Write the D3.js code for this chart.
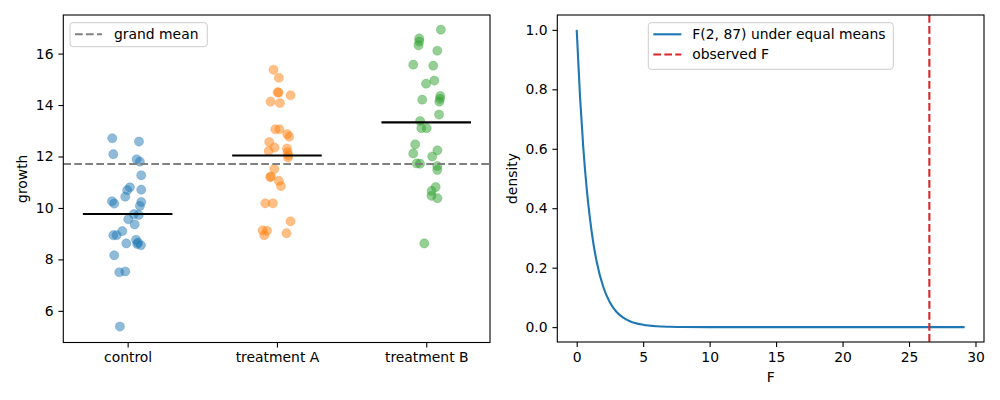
<!DOCTYPE html>
<html>
<head>
<meta charset="utf-8">
<script src="https://cdn.jsdelivr.net/npm/d3@7"></script>
<style>
  body { margin: 0; background: #fff; }
  text { font-family: "DejaVu Sans", sans-serif; }
</style>
</head>
<body>
<div id="chart-area"></div>
<script>
// groups and growth values
var groups = ["control", "treatment A", "treatment B"];

var control = [12.71, 12.58, 12.09, 11.89, 11.80, 11.27, 10.80, 10.69, 10.71, 10.44,
  10.26, 10.17, 10.23, 10.08, 9.76, 9.73, 9.56, 9.36, 9.10, 8.94,
  8.94, 8.76, 8.60, 8.55, 8.62, 8.16, 7.50, 7.53, 5.39, 8.65];
var jitterControl = [-0.103, 0.076, -0.096, 0.060, 0.082, 0.091, 0.015, -0.003, 0.091, -0.016,
  -0.105, -0.090, 0.091, 0.082, 0.042, 0.074, 0.004, 0.047, -0.036, -0.096,
  -0.074, 0.056, 0.064, 0.089, -0.009, -0.090, -0.056, -0.016, -0.052, 0.070];

var treatmentA = [15.37, 15.06, 14.48, 14.50, 14.38, 14.13, 14.08, 13.06, 13.06, 12.87,
  12.77, 12.56, 12.35, 12.21, 12.31, 12.17, 11.96, 11.51, 11.20, 11.22,
  11.05, 10.85, 10.18, 10.18, 9.48, 9.13, 9.11, 8.94, 9.02, 12.05];
var jitterA = [-0.023, 0.013, 0.011, 0.005, 0.091, -0.043, 0.020, -0.011, 0.017, 0.069,
  0.082, -0.052, -0.016, -0.056, 0.067, 0.071, 0.074, -0.018, -0.045, -0.040,
  0.013, 0.027, -0.078, -0.027, 0.091, -0.096, -0.067, -0.085, 0.064, 0.076];

var treatmentB = [16.93, 16.59, 16.47, 16.32, 16.11, 15.57, 15.53, 14.83, 14.95, 14.21,
  14.35, 14.24, 14.13, 13.63, 13.38, 13.10, 13.10, 12.47, 12.24, 12.12,
  12.00, 11.73, 11.72, 11.63, 11.48, 10.81, 10.66, 10.47, 10.38, 8.62];
var jitterB = [0.098, -0.047, -0.047, -0.052, 0.074, -0.087, 0.047, -0.001, 0.054, -0.027,
  0.094, 0.092, 0.088, 0.086, -0.041, -0.033, 0.003, -0.074, 0.075, -0.087,
  0.040, -0.064, -0.042, 0.074, 0.074, 0.063, 0.036, 0.035, 0.075, -0.013];

// F(2, 87) density
var fValues = [0, 0.25, 0.5, 0.75, 1, 1.25, 1.5, 2, 2.5, 3, 3.5, 4, 5, 6, 7, 8, 10, 15, 20, 25, 29.18];
var density = [1.0, 0.775, 0.601, 0.467, 0.364, 0.283, 0.221, 0.135, 0.083, 0.051, 0.032,
  0.020, 0.008, 0.003, 0.0013, 0.0006, 0.0001, 0, 0, 0, 0];
var fObserved = 26.53;

var yTicksLeft = [6, 8, 10, 12, 14, 16];
var xTicksRight = [0, 5, 10, 15, 20, 25, 30];
var yTicksRight = [0, 0.2, 0.4, 0.6, 0.8, 1.0];

var colors = ["#1f77b4", "#ff7f0e", "#2ca02c"];
var fontSize = "13.9px";

var svg = d3.select("#chart-area")
  .append("svg")
    .attr("width", 1000)
    .attr("height", 400);

var series = [control, treatmentA, treatmentB];
var jitters = [jitterControl, jitterA, jitterB];
var grandMean = d3.mean([].concat(control, treatmentA, treatmentB));

function styleAxis(g) {
  g.select(".domain").remove();
  g.selectAll(".tick line").attr("stroke", "#000").attr("stroke-width", 1.1);
  g.selectAll(".tick text").attr("font-size", fontSize).attr("fill", "#000")
    .attr("font-family", "DejaVu Sans");
}

// ---------- left panel ----------
var L = {left: 63.3, right: 490, top: 15, bottom: 342.5};

var x = d3.scaleLinear()
    .domain([-0.431, 2.427])
    .range([L.left, L.right]);

var y = d3.scaleLinear()
    .domain([4.77, 17.5])
    .range([L.bottom, L.top]);

var left = svg.append("g");

left.append("g")
    .attr("transform", "translate(0," + L.bottom + ")")
    .call(d3.axisBottom(x).tickValues([0, 1, 2]).tickFormat((d) => groups[d])
      .tickSizeOuter(0).tickSize(4.9).tickPadding(4.9))
    .call(styleAxis);

left.append("g")
    .attr("transform", "translate(" + L.left + ",0)")
    .call(d3.axisLeft(y).tickValues(yTicksLeft).tickSizeOuter(0).tickSize(4.9).tickPadding(4.9))
    .call(styleAxis);

series.forEach((vals, i) => {
  left.append("g").selectAll("circle").data(vals).enter()
    .append("circle")
      .attr("cx", (d, j) => x(i + jitters[i][j]))
      .attr("cy", (d) => y(d))
      .attr("r", 4.6)
      .attr("fill", colors[i])
      .attr("fill-opacity", 0.5)
      .attr("stroke", colors[i])
      .attr("stroke-opacity", 0.25)
      .attr("stroke-width", 1);
});

// group means
left.append("g").selectAll("line").data(series).enter()
  .append("line")
    .attr("x1", (d, i) => x(i - 0.3))
    .attr("x2", (d, i) => x(i + 0.3))
    .attr("y1", (d) => y(d3.mean(d)))
    .attr("y2", (d) => y(d3.mean(d)))
    .attr("stroke", "#000")
    .attr("stroke-width", 2.1);

// grand mean
left.append("line")
    .attr("x1", L.left).attr("x2", L.right)
    .attr("y1", y(grandMean)).attr("y2", y(grandMean))
    .attr("stroke", "#808080")
    .attr("stroke-width", 2.1)
    .attr("stroke-dasharray", "7.7,3.3");

left.append("rect")
    .attr("x", L.left).attr("y", L.top)
    .attr("width", L.right - L.left).attr("height", L.bottom - L.top)
    .attr("fill", "none").attr("stroke", "#000").attr("stroke-width", 1.1);

left.append("text")
    .attr("transform", "translate(27," + ((L.top + L.bottom) / 2) + ") rotate(-90)")
    .attr("text-anchor", "middle")
    .attr("font-size", fontSize)
    .text("growth");

// legend
var lg = left.append("g").attr("transform", "translate(70,22.7)");
lg.append("rect")
    .attr("width", 137.3).attr("height", 24)
    .attr("rx", 3)
    .attr("fill", "#fff").attr("fill-opacity", 0.8)
    .attr("stroke", "#ccc").attr("stroke-width", 1);
lg.append("line")
    .attr("x1", 5).attr("x2", 32).attr("y1", 11.6).attr("y2", 11.6)
    .attr("stroke", "#808080").attr("stroke-width", 2.1)
    .attr("stroke-dasharray", "7.7,3.3");
lg.append("text")
    .attr("x", 44).attr("y", 16.5)
    .attr("font-size", fontSize)
    .text("grand mean");

// ---------- right panel ----------
var R = {left: 557.3, right: 984, top: 15, bottom: 342};

var x2 = d3.scaleLinear()
    .domain([-1.46, 30.64])
    .range([R.left, R.right]);

var y2 = d3.scaleLinear()
    .domain([-0.05, 1.05])
    .range([R.bottom, R.top]);

var right = svg.append("g");

right.append("g")
    .attr("transform", "translate(0," + R.bottom + ")")
    .call(d3.axisBottom(x2).tickValues(xTicksRight).tickSizeOuter(0).tickSize(4.9).tickPadding(4.9))
    .call(styleAxis);

right.append("g")
    .attr("transform", "translate(" + R.left + ",0)")
    .call(d3.axisLeft(y2).tickValues(yTicksRight).tickFormat(d3.format(".1f"))
      .tickSizeOuter(0).tickSize(4.9).tickPadding(4.9))
    .call(styleAxis);

var line = d3.line()
    .x((d, i) => x2(fValues[i]))
    .y((d) => y2(d))
    .curve(d3.curveMonotoneX);

right.append("path")
    .datum(density)
    .attr("d", line)
    .attr("fill", "none")
    .attr("stroke", "#1f77b4")
    .attr("stroke-width", 2.1);

right.append("line")
    .attr("x1", x2(fObserved)).attr("x2", x2(fObserved))
    .attr("y1", R.top).attr("y2", R.bottom)
    .attr("stroke", "#d62728")
    .attr("stroke-width", 2.1)
    .attr("stroke-dasharray", "7.7,3.3");

right.append("rect")
    .attr("x", R.left).attr("y", R.top)
    .attr("width", R.right - R.left).attr("height", R.bottom - R.top)
    .attr("fill", "none").attr("stroke", "#000").attr("stroke-width", 1.1);

right.append("text")
    .attr("transform", "translate(517," + ((R.top + R.bottom) / 2) + ") rotate(-90)")
    .attr("text-anchor", "middle")
    .attr("font-size", fontSize)
    .text("density");

right.append("text")
    .attr("x", (R.left + R.right) / 2)
    .attr("y", 382)
    .attr("text-anchor", "middle")
    .attr("font-size", fontSize)
    .text("F");

var lg2 = right.append("g").attr("transform", "translate(648.3,22.7)");
lg2.append("rect")
    .attr("width", 245).attr("height", 46.6)
    .attr("rx", 3)
    .attr("fill", "#fff").attr("fill-opacity", 0.8)
    .attr("stroke", "#ccc").attr("stroke-width", 1);
lg2.append("line")
    .attr("x1", 5).attr("x2", 33).attr("y1", 11.6).attr("y2", 11.6)
    .attr("stroke", "#1f77b4").attr("stroke-width", 2.1);
lg2.append("text")
    .attr("x", 44).attr("y", 16.5)
    .attr("font-size", fontSize)
    .text("F(2, 87) under equal means");
lg2.append("line")
    .attr("x1", 5).attr("x2", 33).attr("y1", 31.8).attr("y2", 31.8)
    .attr("stroke", "#d62728").attr("stroke-width", 2.1)
    .attr("stroke-dasharray", "7.7,3.3");
lg2.append("text")
    .attr("x", 44).attr("y", 36.7)
    .attr("font-size", fontSize)
    .text("observed F");
</script>
</body>
</html>
